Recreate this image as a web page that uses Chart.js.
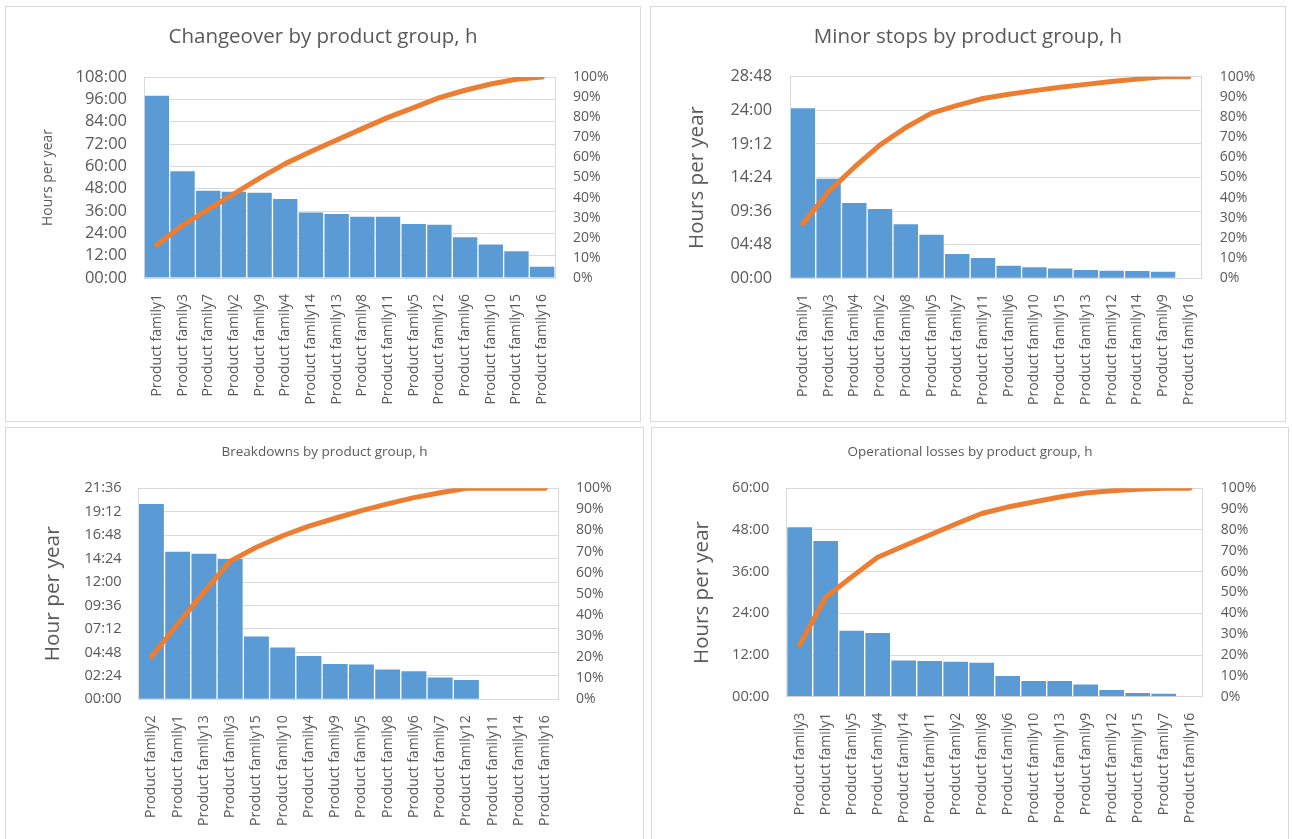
<!DOCTYPE html>
<html>
<head>
<meta charset="utf-8">
<script src="https://cdn.jsdelivr.net/npm/chart.js@4.4.1/dist/chart.umd.min.js"></script>
<style>
  html, body { margin: 0; padding: 0; background: #ffffff; width: 1292px; height: 839px; overflow: hidden; }
  .panel { position: absolute; box-sizing: border-box; border: 1px solid #d9d9d9; background: #ffffff; }
  .panel canvas { display: block; }
</style>
</head>
<body>
<div class="panel" style="left:5px;top:6px;width:636px;height:416px"><canvas id="changeover" width="634" height="414"></canvas></div>
<div class="panel" style="left:650px;top:6px;width:636px;height:416px"><canvas id="minorStops" width="634" height="414"></canvas></div>
<div class="panel" style="left:5px;top:427px;width:639px;height:430px"><canvas id="breakdowns" width="637" height="428"></canvas></div>
<div class="panel" style="left:651px;top:427px;width:638px;height:430px"><canvas id="operational" width="636" height="428"></canvas></div>

<script>
// ---- Changeover ----
const changeoverFamilies = ['Product family1', 'Product family3', 'Product family7', 'Product family2', 'Product family9', 'Product family4', 'Product family14', 'Product family13', 'Product family8', 'Product family11', 'Product family5', 'Product family12', 'Product family6', 'Product family10', 'Product family15', 'Product family16'];
const changeoverHours = [98.3, 57.7, 47.3, 46.7, 46.2, 42.8, 35.6, 34.8, 33.3, 33.3, 29.4, 29.0, 22.2, 18.3, 14.7, 6.4];
const changeoverCumulative = [16.5, 26.2, 34.1, 41.9, 49.7, 56.9, 62.9, 68.7, 74.3, 79.9, 84.8, 89.7, 93.4, 96.5, 98.9, 100];
const changeoverTicks = ['00:00', '12:00', '24:00', '36:00', '48:00', '60:00', '72:00', '84:00', '96:00', '108:00'];

// ---- Minor stops ----
const minorFamilies = ['Product family1', 'Product family3', 'Product family4', 'Product family2', 'Product family8', 'Product family5', 'Product family7', 'Product family11', 'Product family6', 'Product family10', 'Product family15', 'Product family13', 'Product family12', 'Product family14', 'Product family9', 'Product family16'];
const minorHours = [24.4, 14.3, 10.86, 10.0, 7.8, 6.33, 3.57, 3.0, 1.9, 1.66, 1.51, 1.29, 1.19, 1.15, 1.04, 0];
const minorCumulative = [27.1, 43.0, 55.1, 66.2, 74.8, 81.9, 85.8, 89.2, 91.3, 93.1, 94.8, 96.2, 97.6, 98.8, 100, 100];
const minorTicks = ['00:00', '04:48', '09:36', '14:24', '19:12', '24:00', '28:48'];

// ---- Breakdowns ----
const breakdownFamilies = ['Product family2', 'Product family1', 'Product family13', 'Product family3', 'Product family15', 'Product family10', 'Product family4', 'Product family9', 'Product family5', 'Product family8', 'Product family6', 'Product family7', 'Product family12', 'Product family11', 'Product family14', 'Product family16'];
const breakdownHours = [20.06, 15.18, 14.97, 14.43, 6.51, 5.38, 4.5, 3.68, 3.62, 3.13, 2.93, 2.31, 2.05, 0, 0, 0];
const breakdownCumulative = [20.3, 35.7, 50.8, 65.5, 72.1, 77.5, 82.1, 85.8, 89.4, 92.6, 95.6, 97.9, 100, 100, 100, 100];
const breakdownTicks = ['00:00', '02:24', '04:48', '07:12', '09:36', '12:00', '14:24', '16:48', '19:12', '21:36'];

// ---- Operational losses ----
const operationalFamilies = ['Product family3', 'Product family1', 'Product family5', 'Product family4', 'Product family14', 'Product family11', 'Product family2', 'Product family8', 'Product family6', 'Product family10', 'Product family13', 'Product family9', 'Product family12', 'Product family15', 'Product family7', 'Product family16'];
const operationalHours = [48.95, 45.0, 19.2, 18.5, 10.65, 10.48, 10.28, 9.95, 6.16, 4.72, 4.7, 3.74, 2.13, 1.27, 1.07, 0];
const operationalCumulative = [24.9, 47.7, 57.5, 66.9, 72.3, 77.6, 82.9, 87.9, 91.0, 93.4, 95.8, 97.7, 98.8, 99.5, 100, 100];
const operationalTicks = ['00:00', '12:00', '24:00', '36:00', '48:00', '60:00'];

const percentTicks = ['0%', '10%', '20%', '30%', '40%', '50%', '60%', '70%', '80%', '90%', '100%'];

const FONT = "'Open Sans', 'Noto Sans', sans-serif";
const TEXT = '#595959';
const GRID = '#d9d9d9';
const BAR = '#5B9BD5';
const LINE = '#ED7D31';

function hhmmToHours(s) {
  const [h, m] = s.split(':').map(Number);
  return h + m / 60;
}

function paretoChart(canvasId, c) {
  const hourTicks = c.ticks.map(hhmmToHours);
  const pctTicks = percentTicks.map(p => parseFloat(p));
  return new Chart(document.getElementById(canvasId), {
    data: {
      labels: c.labels,
      datasets: [
        {
          type: 'line',
          data: c.cumulative,
          yAxisID: 'y1',
          order: 0,
          borderColor: LINE,
          borderWidth: 5,
          borderCapStyle: 'round',
          borderJoinStyle: 'round',
          pointRadius: 0,
          pointHoverRadius: 0,
          tension: 0,
          fill: false
        },
        {
          type: 'bar',
          data: c.hours,
          yAxisID: 'y',
          order: 1,
          backgroundColor: BAR,
          borderColor: 'rgba(255,255,255,0.45)',
          borderWidth: 1,
          borderSkipped: 'bottom',
          barPercentage: 1,
          categoryPercentage: 1
        }
      ]
    },
    options: {
      responsive: false,
      animation: false,
      devicePixelRatio: 1,
      layout: { padding: 0 },
      plugins: {
        legend: { display: false },
        tooltip: { enabled: false },
        title: {
          display: true,
          text: c.title,
          color: TEXT,
          font: { family: FONT, size: c.titleSize, weight: 'normal', lineHeight: 1.2 },
          padding: { top: c.titleTop, bottom: c.titleBottom }
        }
      },
      scales: {
        x: {
          grid: { display: false, drawTicks: false },
          border: { display: false },
          ticks: {
            autoSkip: false,
            minRotation: 90,
            maxRotation: 90,
            padding: 16,
            color: TEXT,
            font: { family: FONT, size: 14 }
          },
          afterFit: s => { s.height = c.xHeight; }
        },
        y: {
          position: 'left',
          min: hourTicks[0],
          max: hourTicks[hourTicks.length - 1],
          afterBuildTicks: s => { s.ticks = hourTicks.map(v => ({ value: v })); },
          grid: { color: GRID, lineWidth: 1, drawTicks: false },
          border: { color: GRID, width: 1 },
          ticks: {
            autoSkip: false,
            padding: c.yPad,
            color: TEXT,
            font: { family: FONT, size: c.yFont },
            callback: (v, i) => c.ticks[i]
          },
          title: {
            display: true,
            text: c.axisTitle,
            color: TEXT,
            font: { family: FONT, size: c.axisTitleSize, weight: 'normal', lineHeight: 1.2 },
            padding: { top: c.axisTitlePad, bottom: 0 }
          },
          afterFit: s => { s.width = c.yWidth; }
        },
        y1: {
          position: 'right',
          min: 0,
          max: 100,
          afterBuildTicks: s => { s.ticks = pctTicks.map(v => ({ value: v })); },
          grid: { drawOnChartArea: false, drawTicks: false },
          border: { color: GRID, width: 1 },
          ticks: {
            autoSkip: false,
            padding: c.y1Pad,
            color: TEXT,
            font: { family: FONT, size: 14 },
            callback: (v, i) => percentTicks[i]
          },
          afterFit: s => { s.width = c.y1Width; }
        }
      }
    }
  });
}

paretoChart('changeover', {
  title: 'Changeover by product group, h',
  axisTitle: 'Hours per year',
  labels: changeoverFamilies,
  hours: changeoverHours,
  cumulative: changeoverCumulative,
  ticks: changeoverTicks,
  titleSize: 20.5, titleTop: 17.7, titleBottom: 27.7,
  axisTitleSize: 13.9, axisTitlePad: 33.7,
  yFont: 16.5, yPad: 17, yWidth: 138,
  y1Pad: 18, y1Width: 85,
  xHeight: 143
});

paretoChart('minorStops', {
  title: 'Minor stops by product group, h',
  axisTitle: 'Hours per year',
  labels: minorFamilies,
  hours: minorHours,
  cumulative: minorCumulative,
  ticks: minorTicks,
  titleSize: 20.5, titleTop: 17.7, titleBottom: 27.4,
  axisTitleSize: 20.5, axisTitlePad: 33.7,
  yFont: 16.3, yPad: 18, yWidth: 139,
  y1Pad: 18, y1Width: 83.3,
  xHeight: 142.7
});

paretoChart('breakdowns', {
  title: 'Breakdowns by product group, h',
  axisTitle: 'Hour per year',
  labels: breakdownFamilies,
  hours: breakdownHours,
  cumulative: breakdownCumulative,
  ticks: breakdownTicks,
  titleSize: 13.5, titleTop: 15.9, titleBottom: 28.2,
  axisTitleSize: 20.8, axisTitlePad: 34.5,
  yFont: 14.6, yPad: 16.6, yWidth: 132.3,
  y1Pad: 17.7, y1Width: 84.7,
  xHeight: 156.7
});

paretoChart('operational', {
  title: 'Operational losses by product group, h',
  axisTitle: 'Hours per year',
  labels: operationalFamilies,
  hours: operationalHours,
  cumulative: operationalCumulative,
  ticks: operationalTicks,
  titleSize: 13.5, titleTop: 15.9, titleBottom: 28.2,
  axisTitleSize: 20.5, axisTitlePad: 37.7,
  yFont: 14.6, yPad: 17.4, yWidth: 134.7,
  y1Pad: 18, y1Width: 85.3,
  xHeight: 159.3
});
</script>
</body>
</html>
